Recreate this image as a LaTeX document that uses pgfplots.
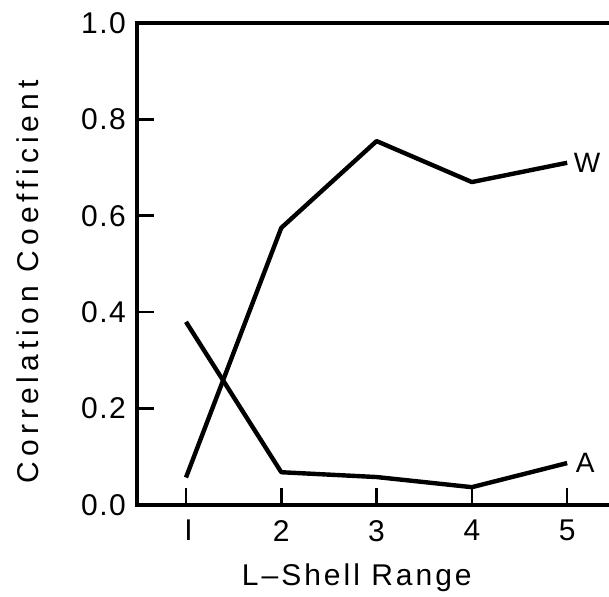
\documentclass[border=0pt]{standalone}
\usepackage{fontspec}
\setmainfont{Liberation Sans}[LetterSpace=5]
\usepackage{pgfplots}
\pgfplotsset{compat=1.18}
\newfontfamily\ylabfont{Liberation Sans}[LetterSpace=17]
\newfontfamily\xlabfont{Liberation Sans}[LetterSpace=10]
\begin{document}
\begin{tikzpicture}
\begin{axis}[
  at={(0,0)}, anchor=south west,
  scale only axis,
  width=480bp, height=482bp,
  xmin=0.486, xmax=5.523,
  ymin=0, ymax=1.0,
  xtick={1,2,3,4,5},
  xticklabels={{\,I},2,3,4,5},
  ytick={0,0.2,0.4,0.6,0.8,1.0},
  yticklabels={0.0,0.2,0.4,0.6,0.8,1.0},
  /pgf/number format/assume math mode=true,
  tick align=inside,
  major tick length=17bp,
  tick style={line width=2.6bp, black},
  axis line style={line width=3.2bp},
  xtick pos=bottom, ytick pos=left,
  ticklabel style={font=\fontsize{30bp}{34bp}\selectfont, inner sep=0pt},
  yticklabel style={xshift=-11bp},
  xticklabel style={yshift=-15bp},
  xlabel={\xlabfont L–Shell Range},
  ylabel={\ylabfont Correlation Coefficient},
  label style={font=\fontsize{30bp}{34bp}\selectfont},
  xlabel style={at={(axis description cs:0.458,-0.166)}, anchor=base},
  ylabel style={at={(axis description cs:-0.227,0.463)}, anchor=center},
  clip=false,
]
\addplot[black, line width=4.4bp, line join=round] coordinates {
  (1,0.057) (2,0.575) (3,0.755) (4,0.670) (5,0.710)
};
\addplot[black, line width=4.4bp, line join=round] coordinates {
  (1,0.380) (2,0.068) (3,0.058) (4,0.037) (5,0.087)
};
\node[font=\fontsize{28bp}{32bp}\selectfont] at (axis cs:5.21,0.71) {W};
\node[font=\fontsize{28bp}{32bp}\selectfont] at (axis cs:5.19,0.087) {A};
\end{axis}
\pgfresetboundingbox
\useasboundingbox (-137bp,-92bp) rectangle (472bp,505bp);
\end{tikzpicture}
\end{document}
